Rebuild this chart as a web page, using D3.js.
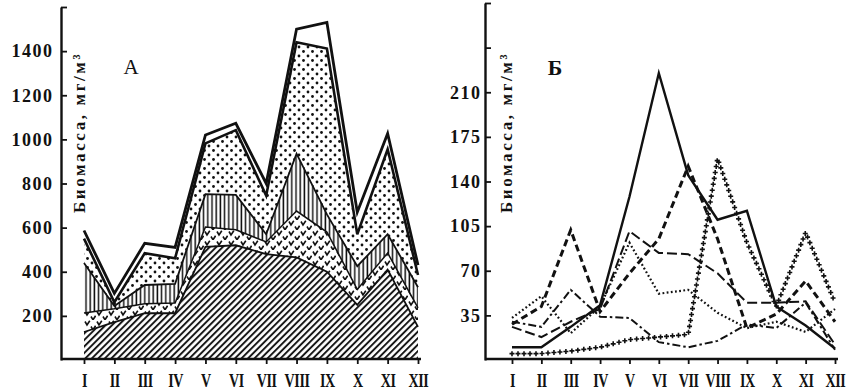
<!DOCTYPE html>
<html>
<head>
<meta charset="utf-8">
<script src="https://cdn.jsdelivr.net/npm/d3@7"></script>
<style>
  body { margin: 0; background: #fff; }
  text { font-family: "Liberation Serif", "DejaVu Serif", serif; font-weight: bold; fill: #111; }
</style>
</head>
<body>
<script>
const months = ["I", "II", "III", "IV", "V", "VI", "VII", "VIII", "IX", "X", "XI", "XII"];

// Panel A: upper edge of each stacked layer (mg/m3), bottom to top
const aHatch  = [127, 172, 212, 212, 513, 520, 480, 465, 400, 250, 410, 150];
const aChecks = [213, 232, 255, 258, 603, 590, 535, 675, 580, 320, 485, 236];
const aVert   = [440, 245, 340, 345, 752, 748, 570, 935, 660, 425, 570, 330];
const aDots   = [550, 262, 484, 461, 982, 1042, 745, 1440, 1412, 570, 955, 385];
const aOuter  = [587, 302, 529, 510, 1020, 1073, 800, 1500, 1530, 670, 1027, 430];
const aTicks = [200, 400, 600, 800, 1000, 1200, 1400, 1600];
const aLabelMax = 1400;

// Panel B: separate lines (mg/m3)
const bSolid    = [10, 10, 26, 43, 128, 225, 145, 110, 117, 42, 27, 9];
const bDashed   = [28, 42, 102, 38, 68, 95, 152, 95, 25, 36, 62, 30];
const bPlus     = [5, 5, 7, 10, 16, 18, 20, 158, 92, 42, 100, 45];
const bLongDash = [26, 18, 30, 40, 101, 84, 83, 68, 45, 45, 46, 12];
const bDotted   = [33, 50, 21, 42, 92, 52, 55, 37, 25, 30, 22, 40];
const bDashDot  = [30, 26, 55, 34, 33, 14, 10, 15, 28, 25, 45, 8];
const bTicks = [35, 70, 105, 140, 175, 210, 245, 280];
const bLabelMax = 210;

const yTitle = "Биомасса, мг/м³";

const W = 868, H = 392, base = 360;
const ink = "#111";

const svg = d3.select("body").append("svg").attr("width", W).attr("height", H);
const defs = svg.append("defs");

// fill patterns
function pattern(id, w, h, draw, rot) {
    const p = defs.append("pattern")
        .attr("id", id)
        .attr("patternUnits", "userSpaceOnUse")
        .attr("width", w)
        .attr("height", h);
    if (rot) p.attr("patternTransform", `rotate(${rot})`);
    p.append("rect").attr("width", w).attr("height", h).attr("fill", "#fff");
    draw(p);
}
pattern("hatch", 4.6, 4.6, p => p.append("line")
    .attr("x1", 1).attr("x2", 1).attr("y1", 0).attr("y2", 4.6)
    .attr("stroke", ink).attr("stroke-width", 1.9), 45);
pattern("vert", 4.2, 10, p => p.append("line")
    .attr("x1", 2).attr("x2", 2).attr("y1", 0).attr("y2", 10)
    .attr("stroke", ink).attr("stroke-width", 1.5));
pattern("dots", 9, 9, p => {
    p.append("circle").attr("cx", 2).attr("cy", 2).attr("r", 1.4).attr("fill", ink);
    p.append("circle").attr("cx", 6.5).attr("cy", 6.5).attr("r", 1.4).attr("fill", ink);
});
pattern("checks", 12, 10, p => p.append("path")
    .attr("d", "M1,1.5 L3,5 L5.8,0.8 M7,6.5 L9,9.8 L11.6,5.8")
    .attr("fill", "none").attr("stroke", ink).attr("stroke-width", 1.6));

// axes
function yAxis(x0, y, ticks, maxLabel, pad) {
    const g = svg.append("g").attr("transform", `translate(${x0},0)`)
        .call(d3.axisLeft(y).tickValues(ticks).tickSizeInner(-6).tickSizeOuter(0)
            .tickPadding(pad).tickFormat(d => d <= maxLabel ? d : ""));
    g.select(".domain").attr("stroke", ink).attr("stroke-width", 2.4);
    g.selectAll(".tick line").attr("stroke", ink).attr("stroke-width", 1.8);
    g.selectAll("text").attr("font-size", 18).attr("letter-spacing", 1.5).attr("fill", ink);
}

function xAxis(x, x0) {
    const g = svg.append("g").attr("transform", `translate(0,${base - 1})`)
        .call(d3.axisBottom(x).tickSize(5).tickPadding(10));
    g.select(".domain").remove();
    g.append("line").attr("x1", x0).attr("x2", x.range()[1] + 3)
        .attr("stroke", ink).attr("stroke-width", 2.6);
    g.selectAll(".tick line").attr("stroke", ink).attr("stroke-width", 1.8);
    g.selectAll("text").attr("font-size", 18).attr("letter-spacing", -0.5)
        .attr("transform", "scale(0.78,1)").attr("fill", ink);
}

function title(x, yBottom) {
    svg.append("text")
        .attr("transform", `translate(${x},${yBottom}) rotate(-90)`)
        .attr("font-size", 17)
        .attr("letter-spacing", 2.6)
        .text(yTitle);
}

// --- Panel A ---
const xA = d3.scalePoint().domain(months).range([84, 418]);
const yA = d3.scaleLinear().domain([0, 1600]).range([base, 7]);
const gA = svg.append("g");
const zero = months.map(() => 0);
const layersA = [
    {lo: zero, hi: aHatch, fill: "url(#hatch)", w: 1.8},
    {lo: aHatch, hi: aChecks, fill: "url(#checks)", w: 1.5},
    {lo: aChecks, hi: aVert, fill: "url(#vert)", w: 1.8},
    {lo: aVert, hi: aDots, fill: "url(#dots)", w: 2.6},
    {lo: aDots, hi: aOuter, fill: "#fff", w: 2.8}
];
layersA.forEach(l => {
    const area = d3.area()
        .x((d, i) => xA(months[i]))
        .y0((d, i) => yA(l.lo[i]))
        .y1(d => yA(d));
    gA.append("path").datum(l.hi).attr("d", area).attr("fill", l.fill);
});
const lineA = d3.line().x((d, i) => xA(months[i])).y(d => yA(d));
layersA.forEach(l => {
    gA.append("path").datum(l.hi).attr("d", lineA)
        .attr("fill", "none").attr("stroke", ink).attr("stroke-width", l.w);
});

yAxis(61, yA, aTicks, aLabelMax, 7.5);
xAxis(xA, 61);
title(85, 213);
svg.append("text").attr("x", 131).attr("y", 74).attr("text-anchor", "middle")
    .attr("font-size", 21).style("font-weight", "normal").text("А");

// --- Panel B ---
const xB = d3.scalePoint().domain(months).range([512, 835]);
const yB = d3.scaleLinear().domain([0, 280]).range([base, 3]);
const gB = svg.append("g");
const lineB = d3.line().x((d, i) => xB(months[i])).y(d => yB(d));
const seriesB = [
    {v: bSolid, dash: null, w: 2.4},
    {v: bDashed, dash: "7,4", w: 3},
    {v: bLongDash, dash: "10,4", w: 2},
    {v: bDotted, dash: "1.8,2.4", w: 2.2},
    {v: bDashDot, dash: "8,3,2.5,3", w: 2}
];
seriesB.forEach(s => {
    gB.append("path").datum(s.v).attr("d", lineB)
        .attr("fill", "none").attr("stroke", ink).attr("stroke-width", s.w)
        .attr("stroke-dasharray", s.dash);
});
// line drawn with small crosses
const plusPath = gB.append("path").datum(bPlus).attr("d", lineB).attr("fill", "none").attr("stroke", "none");
const pn = plusPath.node(), plen = pn.getTotalLength();
const plusPts = d3.range(0, plen, 6).map(l => pn.getPointAtLength(l));
gB.selectAll(".plus").data(plusPts).join("path")
    .attr("class", "plus")
    .attr("d", p => `M${p.x - 2.5},${p.y}h5M${p.x},${p.y - 2.5}v5`)
    .attr("stroke", ink).attr("stroke-width", 1.6);

yAxis(485, yB, bTicks, bLabelMax, 3.5);
xAxis(xB, 485);
title(512, 213);
svg.append("text").attr("x", 555).attr("y", 75).attr("text-anchor", "middle")
    .attr("font-size", 22).text("Б");
</script>
</body>
</html>
